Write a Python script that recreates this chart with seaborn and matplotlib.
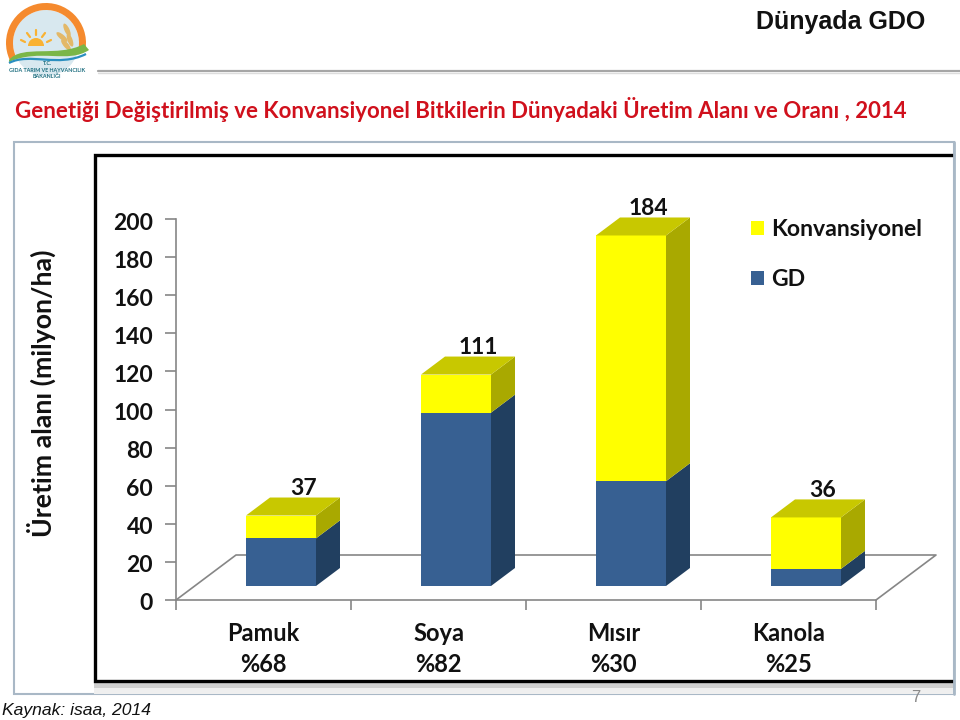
import pandas as pd
import seaborn as sns
from matplotlib import pyplot as plt
from matplotlib.patches import Rectangle, Polygon, Circle, Wedge, Ellipse, PathPatch, Patch
from matplotlib.path import Path
from matplotlib.transforms import ScaledTranslation

# values, million ha
crops = ['Pamuk', 'Soya', 'Mısır', 'Kanola']
shares = ['%68', '%82', '%30', '%25']
gd = [25, 91, 55, 9]
konv = [12, 20, 129, 27]
totals = [37, 111, 184, 36]
y_ticks = [0, 20, 40, 60, 80, 100, 120, 140, 160, 180, 200]

BLUE, BLUE_SIDE = '#376092', '#213f60'
YELLOW, YELLOW_SIDE, YELLOW_TOP = '#ffff00', '#a9a900', '#c8c800'
GREY = '#868686'
W, H = 960, 720

sns.set_style('white')
plt.rcParams['font.family'] = ['Lato', 'DejaVu Sans']
plt.rcParams['font.weight'] = 'bold'

fig = plt.figure(figsize=(W / 100, H / 100), dpi=100)

def box(left, top, right, bottom):
    return [left / W, 1 - bottom / H, (right - left) / W, (bottom - top) / H]

# slide background in pixel coords
bg = fig.add_axes([0, 0, 1, 1], zorder=0)
bg.set_xlim(0, W)
bg.set_ylim(H, 0)
bg.axis('off')
bg.add_patch(Rectangle((14, 142), 940, 552, fc='white', ec='#a9b8c6', lw=1.5))
bg.add_patch(Rectangle((94, 688), 859, 6, fc='#efefef', ec='none'))
bg.add_patch(Rectangle((94, 682), 859, 6, fc='#cfcfcf', ec='none'))
bg.plot([953, 94.5, 94.5, 953], [155, 155, 681, 681], color='black', lw=2.4, solid_joinstyle='miter')
bg.plot([953.5, 953.5], [142, 694], color='#a9b8c6', lw=2)
bg.plot([98, 960], [71, 71], color='#a6a6a6', lw=1.6)
bg.plot([98, 960], [73, 73], color='#dddddd', lw=1)

bg.text(840.5, 21.5, 'Dünyada GDO', ha='center', va='center', color='#111111', fontsize=18,
        family='Liberation Sans', fontweight='bold')
bg.text(15, 110, 'Genetiği Değiştirilmiş ve Konvansiyonel Bitkilerin Dünyadaki Üretim Alanı ve Oranı , 2014',
        ha='left', va='center', color='#d0101c', fontsize=16.05)
bg.text(2, 710, 'Kaynak: isaa, 2014', ha='left', va='center', color='#111111', fontsize=12.6,
        family='Liberation Sans', fontstyle='italic', fontweight='normal')
bg.text(916, 697, '7', ha='center', va='center', color='#8a8a8a', fontsize=12,
        family='Liberation Sans', fontweight='normal')

# logo
bg.add_patch(Circle((46, 43), 33, fc='#d8e8ef', ec='none'))
bg.add_patch(Wedge((46, 43), 40, 155, 368, width=7, fc='#f58a2e', ec='none'))
bg.add_patch(Wedge((36, 46), 8, 180, 360, fc='#f9b233', ec='none'))
for x0, y0, x1, y1 in [(36, 30, 36, 35), (27, 33, 30, 37), (45, 33, 42, 37), (21, 40, 25, 42), (51, 40, 47, 42)]:
    bg.plot([x0, x1], [y0, y1], color='#f9b233', lw=1.6)
for xc, yc, ang in [(67, 30, 65), (62, 37, 40), (70, 40, 70), (66, 45, 50)]:
    bg.add_patch(Ellipse((xc, yc), 14, 5, angle=ang, fc='#e3b868', ec='none'))
bg.add_patch(PathPatch(Path([(9, 60), (22, 44), (58, 58), (84, 44), (89, 50), (68, 64), (40, 48), (9, 62)],
                            [Path.MOVETO, Path.CURVE4, Path.CURVE4, Path.CURVE4,
                             Path.LINETO, Path.CURVE4, Path.CURVE4, Path.CURVE4]), fc='#7ab648', ec='none'))
bg.add_patch(PathPatch(Path([(9, 63), (30, 52), (58, 68), (86, 54)],
                            [Path.MOVETO, Path.CURVE4, Path.CURVE4, Path.CURVE4]),
                       fc='none', ec='#2a8fc0', lw=1.6))
for yy, txt in [(63.5, 'T.C.'), (70, 'GIDA TARIM VE HAYVANCILIK'), (76, 'BAKANLIĞI')]:
    bg.text(47, yy, txt, ha='center', va='center', color='#1f6f80', fontsize=3.9)

# axes with ticks and floor
ax = fig.add_axes(box(176, 219, 876, 600), zorder=1)
ax.patch.set_visible(False)
x = list(range(len(crops)))
ax.set_xlim(-0.5, 3.5)
ax.set_ylim(0, 200)
ax.set_yticks(y_ticks)
ax.set_xticks([i - 0.5 for i in x] + [3.5], [])
ax.set_xticks(x, [c + '\n' + s for c, s in zip(crops, shares)], minor=True)
ax.tick_params(axis='x', which='major', length=7, color=GREY, width=1.2, direction='out', bottom=True)
ax.tick_params(axis='x', which='minor', length=0, pad=16, labelsize=17, labelcolor='#111111')
ax.tick_params(axis='y', length=8, color=GREY, width=1.2, direction='out', left=True, pad=8.5,
               labelsize=16.5, labelcolor='#111111')
for lab in ax.get_xticklabels(minor=True):
    lab.set_linespacing(1.4)
down = ScaledTranslation(0, -2 / 100, fig.dpi_scale_trans)
for lab in ax.get_yticklabels():
    lab.set_transform(lab.get_transform() + down)
sns.despine(ax=ax)
ax.spines['left'].set_color(GREY)
ax.spines['bottom'].set_color(GREY)
ax.spines['left'].set_linewidth(1.2)
ax.spines['bottom'].set_linewidth(1.2)
ax.set_ylabel('Üretim alanı (milyon/ha)', fontsize=19.3, color='#111111', fontweight='bold', va='center')
ax.yaxis.set_label_coords(-135 / 700, 0.543)

# floor drawn back from the front edge
floor_dx, floor_dy = 60 / 175, 45 / 1.905
ax.plot([-0.5, -0.5 + floor_dx, 3.5 + floor_dx, 3.5], [0, floor_dy, floor_dy, 0],
        color=GREY, lw=1.2, clip_on=False)

# bars sit slightly in from the floor front, so a second axes shifted by 17.5, 14 px
ax_bars = fig.add_axes(box(193.5, 205, 893.5, 586), zorder=2)
ax_bars.patch.set_visible(False)
df = pd.DataFrame({'crop': crops, 'gd': gd, 'total': totals})
sns.barplot(data=df, x='crop', y='total', color=YELLOW, saturation=1, width=0.4, linewidth=0, ax=ax_bars)
n_yellow = len(ax_bars.patches)
sns.barplot(data=df, x='crop', y='gd', color=BLUE, saturation=1, width=0.4, linewidth=0, ax=ax_bars)
ax_bars.set_xlim(-0.5, 3.5)
ax_bars.set_ylim(0, 200)
ax_bars.axis('off')

# side and top faces from the bars
dx, dy = 24 / 175, 18 / 1.905
label_shift = [0, 0, -5, -5]
for i, p in enumerate(ax_bars.patches[:n_yellow]):
    x0, x1 = p.get_x(), p.get_x() + p.get_width()
    top = totals[i]
    low = gd[i]
    ax_bars.add_patch(Polygon([(x1, 0), (x1 + dx, dy), (x1 + dx, low + dy), (x1, low)],
                              fc=BLUE_SIDE, ec='none', clip_on=False))
    ax_bars.add_patch(Polygon([(x1, low), (x1 + dx, low + dy), (x1 + dx, top + dy), (x1, top)],
                              fc=YELLOW_SIDE, ec='none', clip_on=False))
    ax_bars.add_patch(Polygon([(x0, top), (x0 + dx, top + dy), (x1 + dx, top + dy), (x1, top)],
                              fc=YELLOW_TOP, ec='none', clip_on=False))
    ax_bars.annotate(str(top), (x[i] + dx * 0.92, top + dy), xytext=(label_shift[i] * 0.72, 6.5),
                     textcoords='offset points', ha='center', va='center', fontsize=16.5,
                     color='#111111', annotation_clip=False)

handles = [Patch(fc=YELLOW, ec='none', label='Konvansiyonel'), Patch(fc=BLUE, ec='none', label='GD')]
fig.legend(handles=handles, loc='upper left', bbox_to_anchor=(751 / W, 1 - 219 / H), frameon=False,
           fontsize=16.6, labelcolor='#111111', handlelength=0.56, handleheight=0.56,
           handletextpad=0.3, labelspacing=1.25, borderpad=0, borderaxespad=0)

fig.savefig('out.png', dpi=100)
